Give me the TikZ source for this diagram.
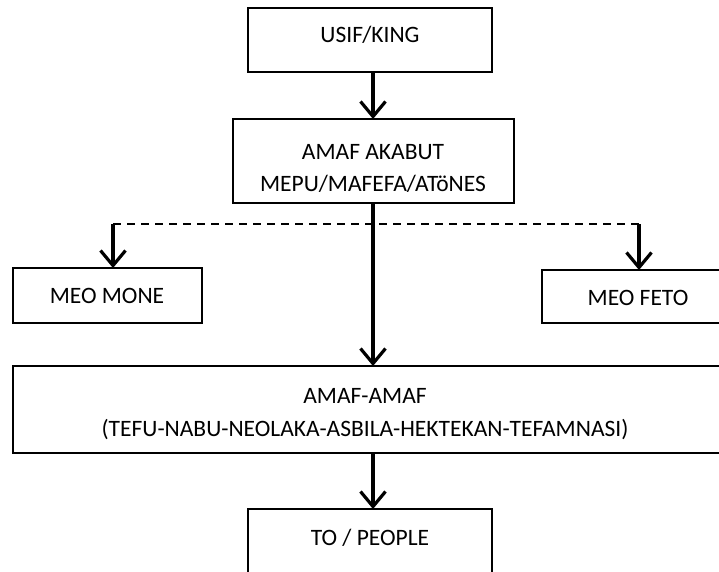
\documentclass[tikz,border=0pt]{standalone}
\usepackage{fontspec}
\setmainfont{Carlito}
\usetikzlibrary{arrows.meta}
\begin{document}
\begin{tikzpicture}[x=1pt,y=-1pt,
  box/.style={draw, line width=1.3pt, rectangle, inner sep=0pt, outer sep=0pt},
  lbl/.style={anchor=base, inner sep=0pt, font=\fontsize{23.5}{28}\selectfont},
  arr/.style={line width=3.2pt, -{Straight Barb[length=15pt,width=25pt,line width=3.2pt]}},
  dsh/.style={line width=1.5pt, dash pattern=on 8pt off 6pt}]
\useasboundingbox (0,0) rectangle (719,571);
\clip (0,0) rectangle (719,571);
% boxes
\node[box, minimum width=244pt, minimum height=64pt] (usif) at (370,40) {};
\node[box, minimum width=281pt, minimum height=84pt] (akabut) at (373.5,161) {};
\node[box, minimum width=189pt, minimum height=55pt] (mone) at (107.5,295.5) {};
\node[box, minimum width=180pt, minimum height=53pt] (feto) at (632,296.5) {};
\node[box, minimum width=709pt, minimum height=87pt] (amaf) at (367.5,409.5) {};
\node[box, minimum width=244pt, minimum height=75pt] (people) at (370,546.5) {};
% labels
\node[lbl] (t1) at (370,42) {USIF/KING};
\node[lbl] (t2) at (373,159) {AMAF AKABUT};
\node[lbl] (t3) at (373,191) {MEPU/MAFEFA/ATöNES};
\node[lbl] (t4) at (107,303) {MEO MONE};
\node[lbl] (t5) at (638,305) {MEO FETO};
\node[lbl] (t6) at (365,403) {AMAF-AMAF};
\node[lbl] (t7) at (365,436) {(TEFU-NABU-NEOLAKA-ASBILA-HEKTEKAN-TEFAMNASI)};
\node[lbl] (t8) at (370,545) {TO / PEOPLE};
% connectors
\coordinate (cx) at (373,0);
\coordinate (jl) at (113,224);
\coordinate (jr) at (639,224);
\draw[arr] (cx |- usif.south) -- (cx |- akabut.north);
\draw[arr] (cx |- akabut.south) -- (cx |- amaf.north);
\draw[arr] (cx |- amaf.south) -- (cx |- people.north);
\draw[dsh] (jl) -- (jr);
\draw[arr] (jl) -- (jl |- mone.north);
\draw[arr] (jr) -- (jr |- feto.north);
\end{tikzpicture}
\end{document}
